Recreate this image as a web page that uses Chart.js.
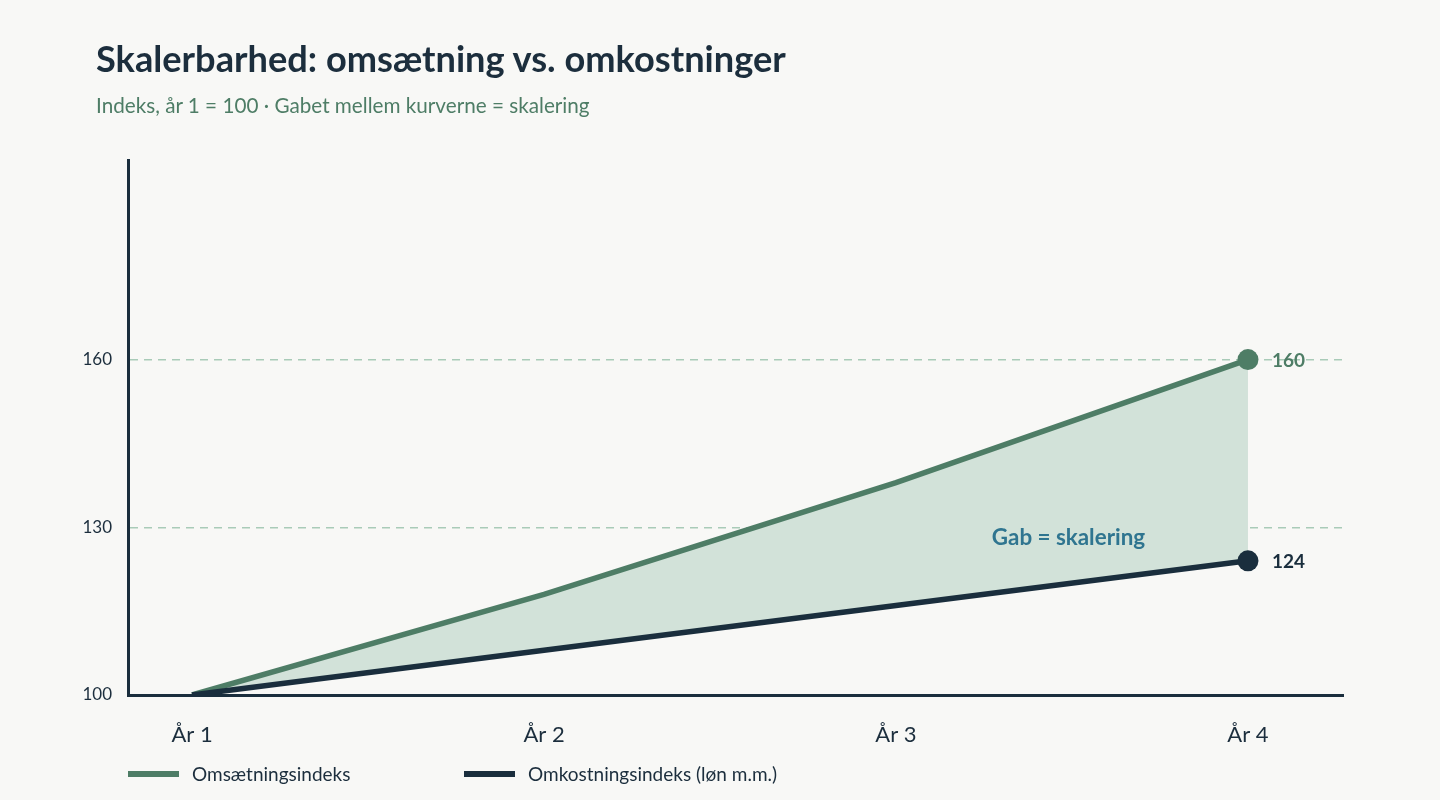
<!DOCTYPE html>
<html lang="da">
<head>
<meta charset="utf-8">
<title>Skalerbarhed</title>
<script src="https://cdn.jsdelivr.net/npm/chart.js@4/dist/chart.umd.min.js"></script>
<style>
    html, body {
        margin: 0;
        padding: 0;
        background: #f8f8f6;
        font-family: Lato, 'Noto Sans', sans-serif;
    }
    .page {
        position: relative;
        width: 1440px;
        height: 800px;
        overflow: hidden;
    }
    #chart {
        position: absolute;
        left: 0;
        top: 0;
    }
    h1 {
        position: absolute;
        left: 96px;
        top: 36px;
        margin: 0;
        font-size: 36.2px;
        line-height: 44px;
        font-weight: 700;
        color: #1c2e3d;
    }
    .subtitle {
        position: absolute;
        left: 96px;
        top: 92px;
        margin: 0;
        font-size: 20.7px;
        line-height: 26px;
        color: #4e7d66;
    }
    .legend {
        position: absolute;
        top: 762px;
        left: 128px;
        font-size: 19px;
        line-height: 24px;
        color: #1c2e3d;
    }
    .legend-item {
        position: absolute;
        top: 0;
        white-space: nowrap;
        display: flex;
        align-items: center;
    }
    .swatch {
        display: inline-block;
        width: 51px;
        height: 6px;
        margin-right: 13px;
    }
</style>
</head>
<body>
<div class="page">
    <canvas id="chart" width="1440" height="800"></canvas>
    <h1>Skalerbarhed: omsætning vs. omkostninger</h1>
    <p class="subtitle">Indeks, år 1 = 100 · Gabet mellem kurverne = skalering</p>
    <div class="legend" id="legend"></div>
</div>
<script>
// Data
const categories = ['År 1', 'År 2', 'År 3', 'År 4'];
const revenueIndex = [100, 118, 138, 160];
const costIndex = [100, 108, 116, 124];
const yTicks = [100, 130, 160];

const seriesNames = ['Omsætningsindeks', 'Omkostningsindeks (løn m.m.)'];
const green = '#4e7d66';
const navy = '#1a2e3d';
const fillGreen = '#d2e2d9';
const gapBlue = '#2f7590';

const toPoints = (arr) => arr.map((v, i) => ({ x: i + 1, y: v }));
const lastOnly = (ctx) => ctx.dataIndex === categories.length - 1 ? 10.5 : 0;

// Labels på slutpunkter + "Gab = skalering"
const annotations = {
    id: 'annotations',
    afterDatasetsDraw(chart) {
        const { ctx, scales: { x, y } } = chart;
        const last = categories.length - 1;
        ctx.save();
        ctx.font = "700 19px Lato, 'Noto Sans', sans-serif";
        ctx.textBaseline = 'middle';
        ctx.textAlign = 'left';
        ctx.fillStyle = green;
        ctx.fillText(String(revenueIndex[last]), x.getPixelForValue(last + 1) + 24, y.getPixelForValue(revenueIndex[last]) + 1);
        ctx.fillStyle = navy;
        ctx.fillText(String(costIndex[last]), x.getPixelForValue(last + 1) + 24, y.getPixelForValue(costIndex[last]) + 1);

        ctx.font = "700 22.4px Lato, 'Noto Sans', sans-serif";
        ctx.textAlign = 'center';
        ctx.fillStyle = gapBlue;
        ctx.fillText('Gab = skalering', x.getPixelForValue(3.49), y.getPixelForValue(128.2));
        ctx.restore();
    }
};

Chart.defaults.font.family = "Lato, 'Noto Sans', sans-serif";
Chart.defaults.color = '#1c2e3d';

const chart = new Chart(document.getElementById('chart'), {
    type: 'line',
    data: {
        datasets: [{
            label: seriesNames[0],
            data: toPoints(revenueIndex),
            borderColor: green,
            backgroundColor: fillGreen,
            borderWidth: 5.5,
            fill: '+1',
            order: 1,
            pointRadius: lastOnly,
            pointBackgroundColor: green,
            pointBorderWidth: 0,
            tension: 0
        }, {
            label: seriesNames[1],
            data: toPoints(costIndex),
            borderColor: navy,
            backgroundColor: navy,
            borderWidth: 5.5,
            fill: false,
            order: 0,
            pointRadius: lastOnly,
            pointBackgroundColor: navy,
            pointBorderWidth: 0,
            tension: 0
        }]
    },
    options: {
        responsive: false,
        animation: false,
        layout: {
            padding: { top: 160, right: 97, left: 0, bottom: 0 }
        },
        plugins: {
            legend: { display: false },
            tooltip: { enabled: false }
        },
        scales: {
            x: {
                type: 'linear',
                min: 0.818,
                max: 4.27,
                afterBuildTicks: (scale) => {
                    scale.ticks = categories.map((c, i) => ({ value: i + 1 }));
                },
                afterFit: (scale) => { scale.height = 105; },
                grid: { display: false, drawTicks: false },
                border: { display: true, color: navy, width: 3 },
                ticks: {
                    padding: 27,
                    font: { size: 22 },
                    color: '#1c2e3d',
                    callback: (v) => categories[v - 1]
                }
            },
            y: {
                min: 100,
                max: 195.7,
                afterBuildTicks: (scale) => {
                    scale.ticks = yTicks.map(v => ({ value: v }));
                },
                afterFit: (scale) => { scale.width = 128; },
                grid: {
                    drawTicks: false,
                    color: (ctx) => ctx.tick && ctx.tick.value === 100 ? 'rgba(0,0,0,0)' : '#a9cbb8',
                    lineWidth: 1.5
                },
                border: { display: true, color: navy, width: 3, dash: [8, 6] },
                ticks: {
                    padding: 16,
                    font: { size: 17 },
                    color: '#1c2e3d'
                }
            }
        }
    },
    plugins: [annotations]
});

// Legend (HTML)
const legendEl = document.getElementById('legend');
const legendOffsets = [0, 336];
[green, navy].forEach((color, i) => {
    const item = document.createElement('div');
    item.className = 'legend-item';
    item.style.left = legendOffsets[i] + 'px';
    item.innerHTML = '<span class="swatch" style="background:' + color + '"></span>' + seriesNames[i];
    legendEl.appendChild(item);
});
</script>
</body>
</html>
